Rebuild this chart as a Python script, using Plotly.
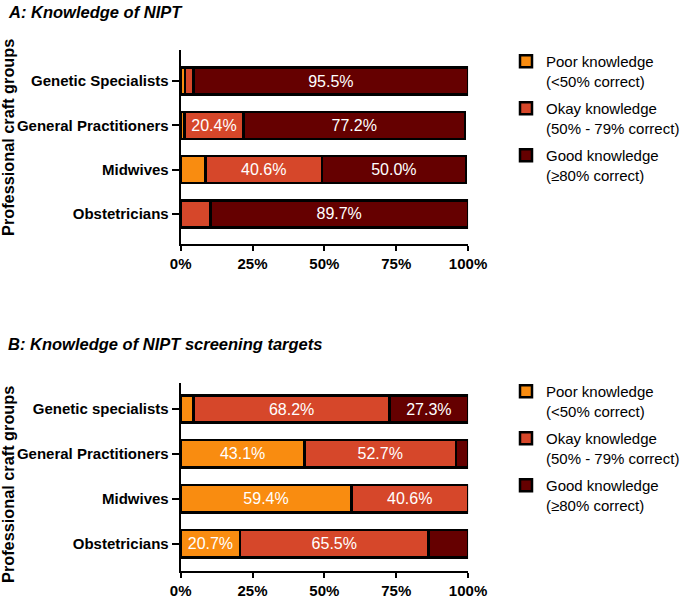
import plotly.graph_objs as go

# knowledge categories (legend)
levels = ["Poor knowledge<br>(<50% correct)",
          "Okay knowledge<br>(50% - 79% correct)",
          "Good knowledge<br>(≥80% correct)"]
colors = ["#F98C10", "#D6472A", "#650000"]

# panel A: knowledge of NIPT
groups_a = ["Genetic Specialists", "General Practitioners", "Midwives", "Obstetricians"]
poor_a = [1.5, 1.4, 8.6, 0.0]
okay_a = [3.0, 20.4, 40.6, 10.3]
good_a = [95.5, 77.2, 50.0, 89.7]

# panel B: knowledge of NIPT screening targets
groups_b = ["Genetic specialists", "General Practitioners", "Midwives", "Obstetricians"]
poor_b = [4.5, 43.1, 59.4, 20.7]
okay_b = [68.2, 52.7, 40.6, 65.5]
good_b = [27.3, 4.2, 0.0, 13.8]

x_ticks = [0, 25, 50, 75, 100]

FONT = "Liberation Sans, Arial, sans-serif"


def labels(vals):
    return [f"{v:.1f}%" if v >= 15 else "" for v in vals]


fig = go.Figure()

panels = [
    (groups_a, [poor_a, okay_a, good_a], "x", "y", "legend"),
    (groups_b, [poor_b, okay_b, good_b], "x2", "y2", "legend2"),
]

for groups, series, xa, ya, leg in panels:
    for i, (name, vals, col) in enumerate(zip(levels, series, colors)):
        fig.add_trace(go.Bar(
            x=vals, y=groups, orientation="h", name=name,
            xaxis=xa, yaxis=ya, legend=leg, legendgroup=f"{leg}_{i}",
            marker=dict(color=col, line=dict(color="black", width=2.5)),
            text=labels(vals), textposition="inside",
            insidetextanchor="middle", textangle=0,
            textfont=dict(color="white", size=16, family=FONT),
            constraintext="none", hoverinfo="x+y",
        ))

xdom = [182 / 685, 471.5 / 685]
xaxis_style = dict(
    range=[0, 100], tickvals=x_ticks, ticktext=[f"{v}%" for v in x_ticks],
    showline=True, linecolor="black", linewidth=2,
    ticks="outside", ticklen=5, tickwidth=2, tickcolor="black",
    showgrid=False, zeroline=False, domain=xdom, automargin=False,
    tickfont=dict(size=15, family=FONT, color="black", weight="bold"),
)
yaxis_style = dict(
    type="category", showline=True, linecolor="black", linewidth=2,
    ticks="outside", ticklen=7, tickwidth=2, tickcolor="black",
    showgrid=False, zeroline=False, automargin=False,
    tickfont=dict(size=15, family=FONT, color="black", weight="bold"),
)

legend_style = dict(
    x=510 / 685, xanchor="left", yanchor="top", valign="top",
    font=dict(size=15, family=FONT, color="black"),
    tracegroupgap=5, traceorder="grouped", bgcolor="rgba(0,0,0,0)",
)

fig.update_layout(
    width=685, height=598,
    margin=dict(l=0, r=0, t=0, b=0),
    paper_bgcolor="white", plot_bgcolor="white",
    barmode="stack", bargap=0.39,
    xaxis=dict(xaxis_style, anchor="y"),
    yaxis=dict(yaxis_style, anchor="x", categoryarray=groups_a,
               range=[3.68, -0.70], domain=[1 - 244 / 598, 1 - 50 / 598]),
    xaxis2=dict(xaxis_style, anchor="y2"),
    yaxis2=dict(yaxis_style, anchor="x2", categoryarray=groups_b,
                range=[3.61, -0.58], domain=[1 - 571 / 598, 1 - 383 / 598]),
    legend=dict(legend_style, y=1 - 45 / 598),
    legend2=dict(legend_style, y=1 - 375 / 598),
    showlegend=True,
    annotations=[
        dict(text="<b><i>A: Knowledge of NIPT</i></b>", x=6 / 685, y=1 - 12 / 598,
             xref="paper", yref="paper", xanchor="left", yanchor="middle",
             showarrow=False, font=dict(size=16.5, family=FONT, color="black")),
        dict(text="<b><i>B: Knowledge of NIPT screening targets</i></b>", x=6 / 685,
             y=1 - 344 / 598, xref="paper", yref="paper", xanchor="left",
             yanchor="middle", showarrow=False,
             font=dict(size=16.5, family=FONT, color="black")),
        dict(text="<b>Professional craft groups</b>", x=8 / 685, y=1 - 137 / 598,
             xref="paper", yref="paper", xanchor="center", yanchor="middle",
             textangle=-90, showarrow=False,
             font=dict(size=16.3, family=FONT, color="black")),
        dict(text="<b>Professional craft groups</b>", x=8 / 685, y=1 - 484 / 598,
             xref="paper", yref="paper", xanchor="center", yanchor="middle",
             textangle=-90, showarrow=False,
             font=dict(size=16.3, family=FONT, color="black")),
    ],
)

# the browser's default 8px body margin would shift the fixed-size figure
fig.write_html("out.html", config={"displayModeBar": False},
               post_script="document.body.style.margin='0';")
